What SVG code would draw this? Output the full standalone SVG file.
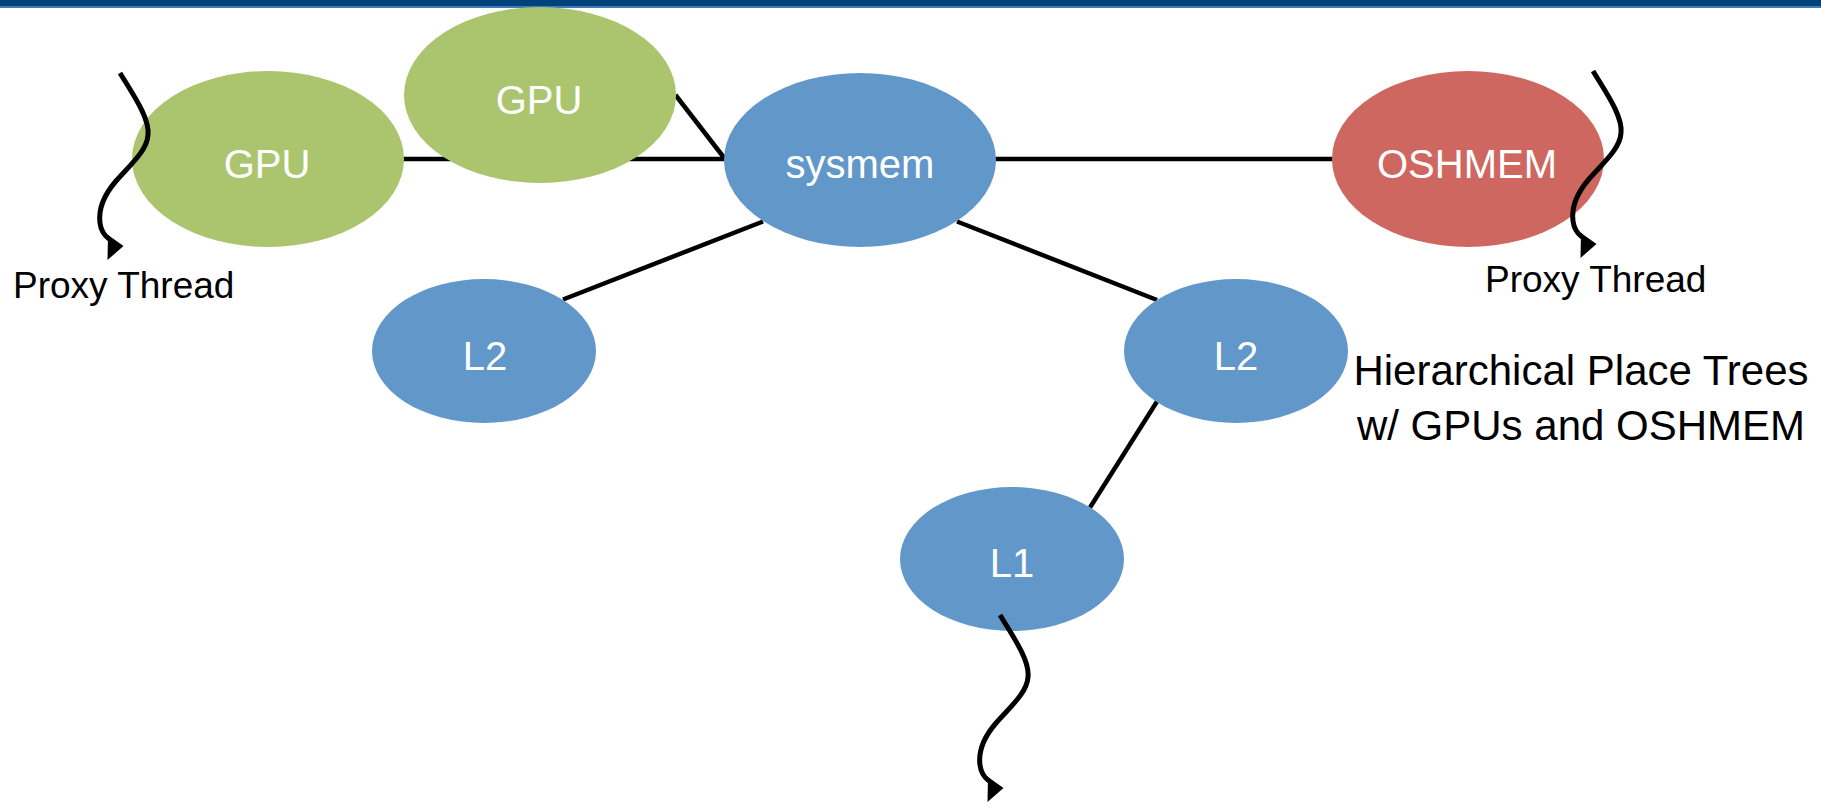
<svg xmlns="http://www.w3.org/2000/svg" xmlns:xlink="http://www.w3.org/1999/xlink" width="1821" height="803" viewBox="0 0 1821 803">
<style>
.lbl{font-family:"Liberation Sans",Arial,sans-serif;font-size:40px;fill:#ffffff;text-anchor:middle}
.txt{font-family:"Liberation Sans",Arial,sans-serif;fill:#000000}
.edge{stroke:#000000;stroke-width:4.5;fill:none}
.thr{stroke:#000000;stroke-width:5;fill:none}
.green{fill:#ABC56F}
.blue{fill:#6197C9}
.red{fill:#CD6760}
</style>
<defs>
<g id="thread">
<path class="thr" d="M0,0 C12,20 30,45 28,62 C27,78 10,92 -4,108 C-16,122 -22,135 -20,150 C-19,158 -15,163 -11,166"/>
<polygon points="-12,162 3.5,173 -12.5,187" fill="#000000"/>
</g>
</defs>
<rect x="0" y="0" width="1821" height="803" fill="#ffffff"/>
<rect x="0" y="0" width="1821" height="6" fill="#00427A"/>
<rect x="0" y="6" width="1821" height="2" fill="#3F7BB8"/>
<g id="connectors">
<line class="edge" x1="403" y1="159" x2="725" y2="159"/>
<line class="edge" x1="675.5" y1="95" x2="725" y2="159"/>
<line class="edge" x1="995" y1="159" x2="1333" y2="159"/>
<line class="edge" x1="763" y1="221.5" x2="563" y2="299.5"/>
<line class="edge" x1="957" y1="221.5" x2="1157" y2="300"/>
<line class="edge" x1="1157" y1="401.5" x2="1090" y2="507.5"/>
</g>
<g id="node-gpu-left">
<ellipse class="green" cx="268" cy="159" rx="136" ry="88"/>
<text class="lbl" x="267" y="178">GPU</text>
</g>
<g id="node-gpu-top">
<ellipse class="green" cx="540" cy="95" rx="136" ry="88"/>
<text class="lbl" x="539" y="114">GPU</text>
</g>
<g id="node-sysmem">
<ellipse class="blue" cx="860" cy="160" rx="136" ry="87"/>
<text class="lbl" x="860" y="178">sysmem</text>
</g>
<g id="node-oshmem">
<ellipse class="red" cx="1468" cy="159" rx="136" ry="88"/>
<text class="lbl" x="1467" y="178">OSHMEM</text>
</g>
<g id="node-l2-left">
<ellipse class="blue" cx="484" cy="351" rx="112" ry="72"/>
<text class="lbl" x="485" y="370">L2</text>
</g>
<g id="node-l2-right">
<ellipse class="blue" cx="1236" cy="351" rx="112" ry="72"/>
<text class="lbl" x="1236" y="370">L2</text>
</g>
<g id="node-l1">
<ellipse class="blue" cx="1012" cy="559" rx="112" ry="72"/>
<text class="lbl" x="1012" y="577">L1</text>
</g>
<g id="threads">
<use xlink:href="#thread" transform="translate(120,73)"/>
<use xlink:href="#thread" transform="translate(1593,71)"/>
<use xlink:href="#thread" transform="translate(1000,615)"/>
</g>
<g id="labels">
<text class="txt" x="13" y="298" font-size="37">Proxy Thread</text>
<text class="txt" x="1485" y="292" font-size="37">Proxy Thread</text>
<text class="txt" x="1581" y="385" font-size="42" text-anchor="middle">Hierarchical Place Trees</text>
<text class="txt" x="1581" y="440" font-size="42" text-anchor="middle">w/ GPUs and OSHMEM</text>
</g>
</svg>
